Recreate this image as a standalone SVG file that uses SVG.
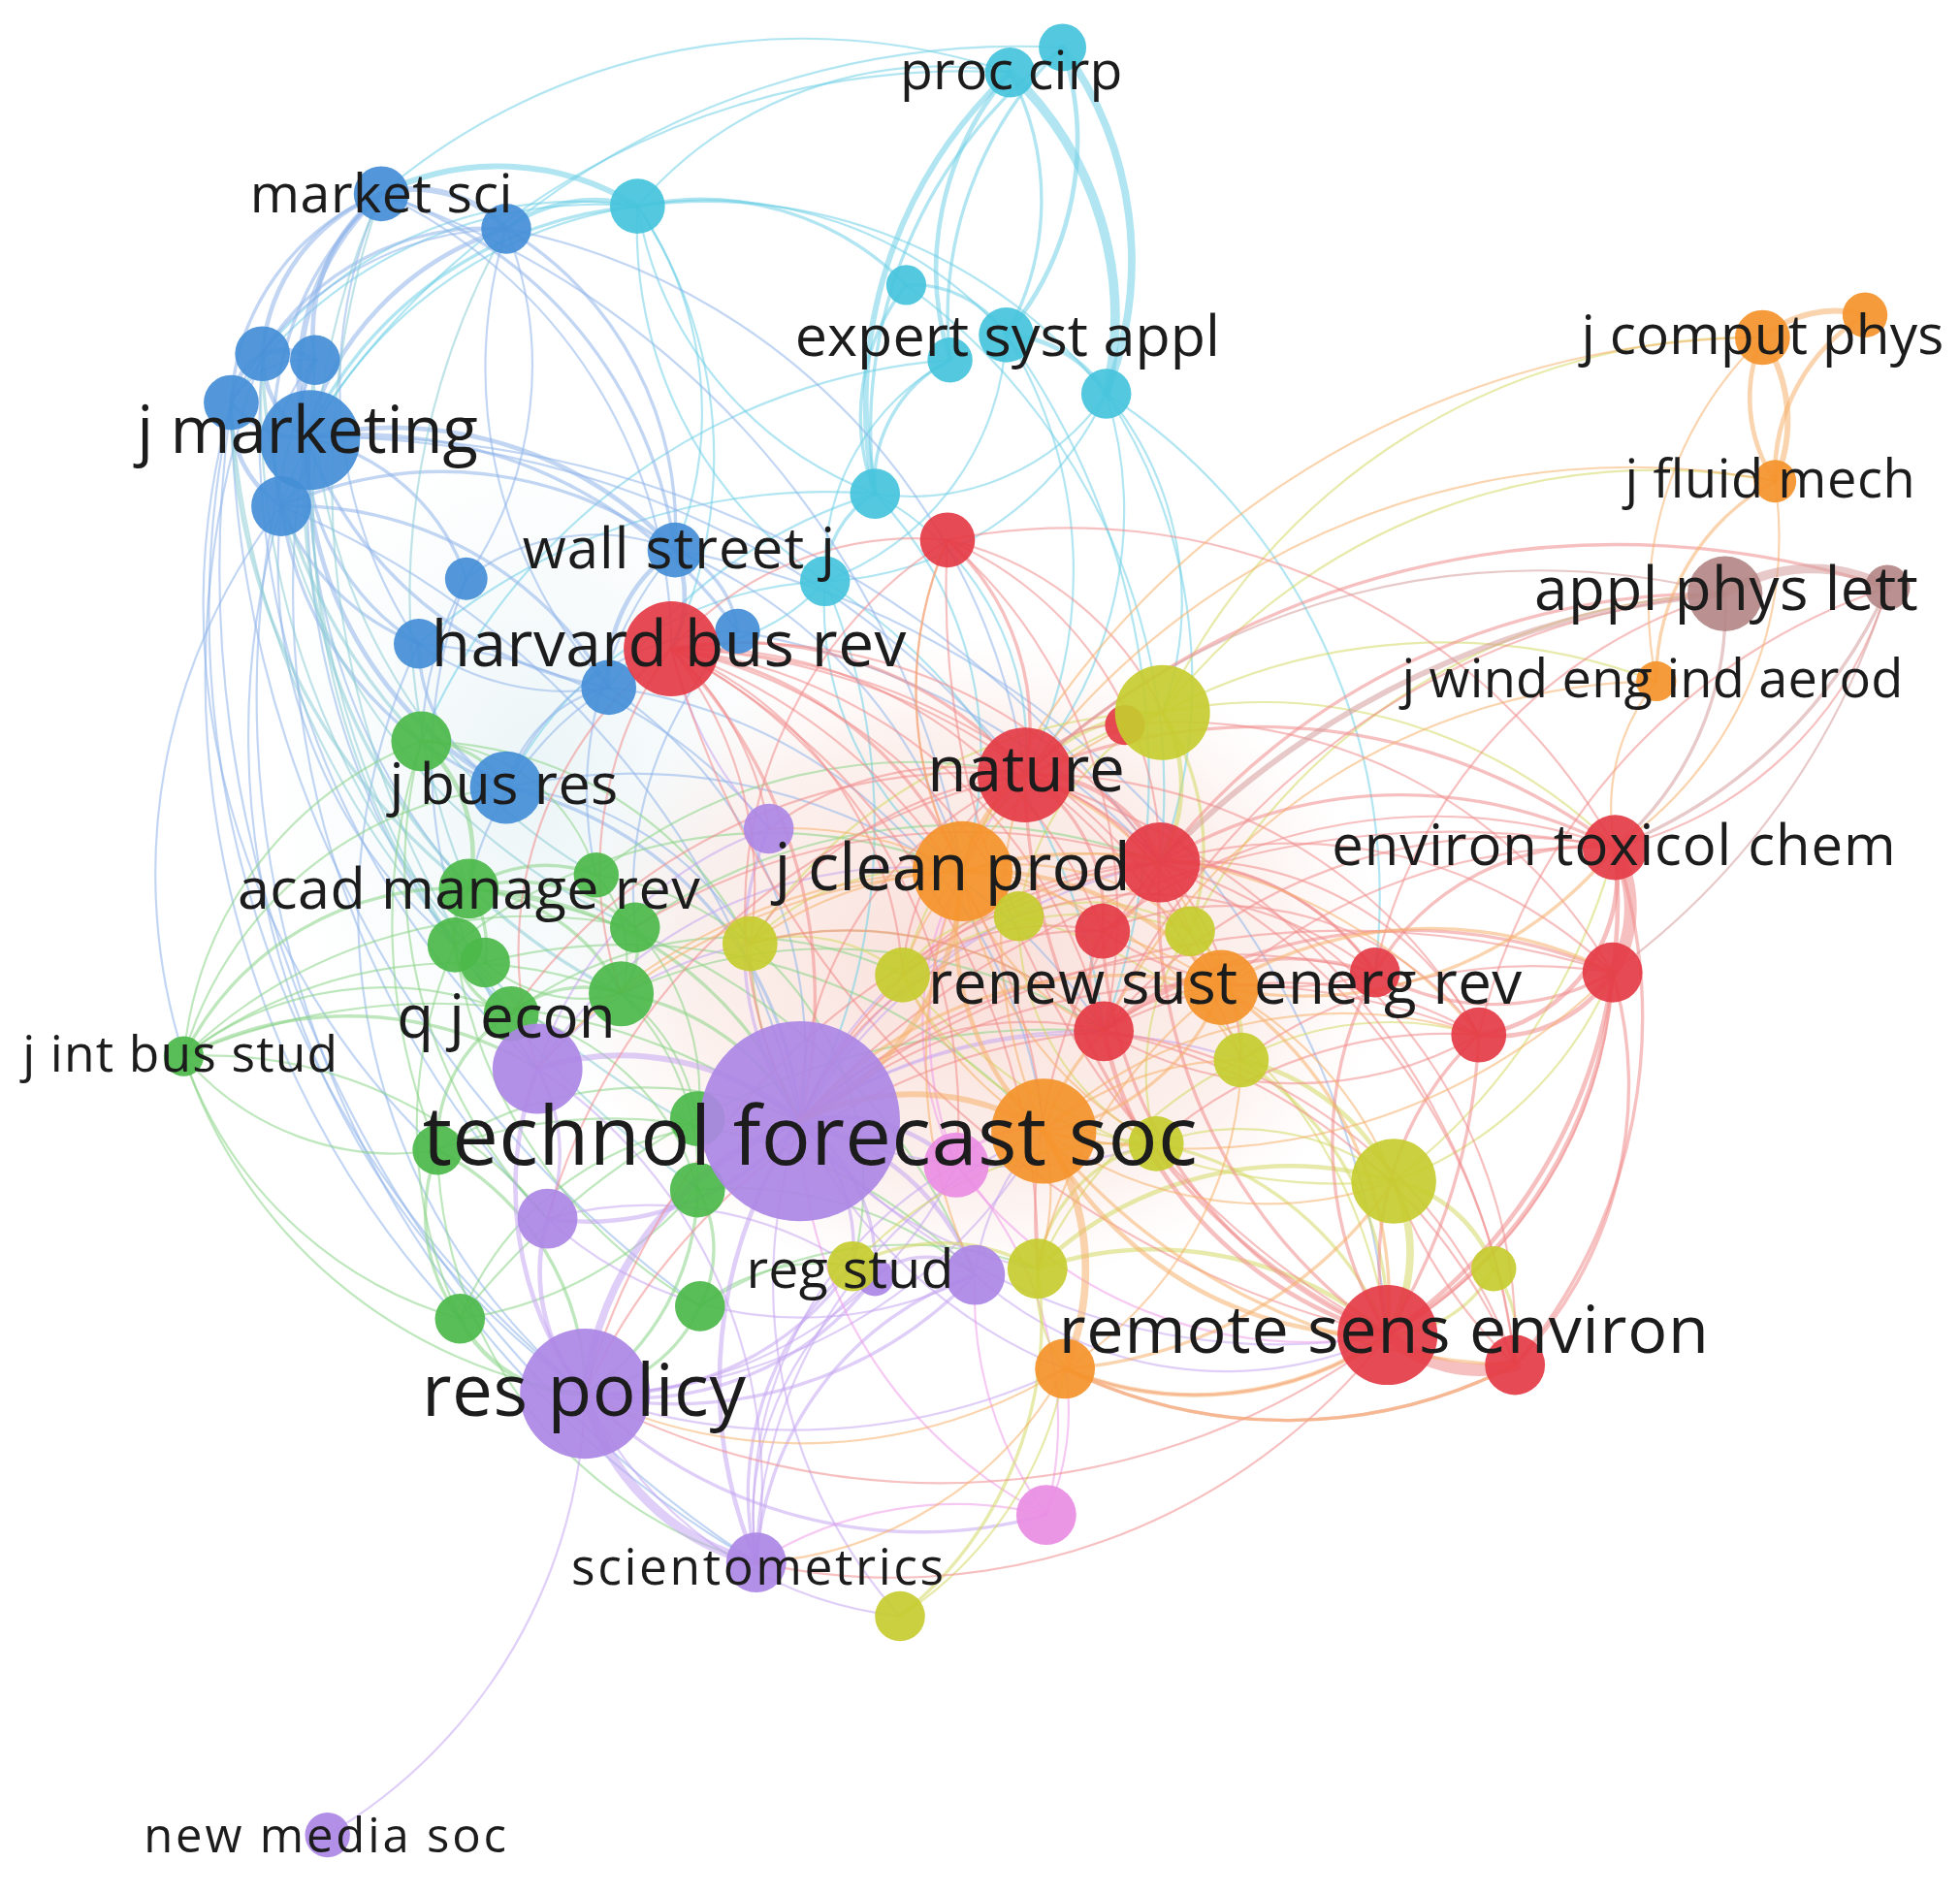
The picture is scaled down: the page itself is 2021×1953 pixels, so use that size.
<svg xmlns="http://www.w3.org/2000/svg" width="2021" height="1953" viewBox="0 0 2021 1953">
<style>
#edges path{fill:none;stroke-width:1.7;stroke-opacity:.55;stroke-linecap:round}
#edges .c{stroke:#6fd0e5}
#edges .b{stroke:#8fb5ea}
#edges .t{stroke:#8cccd6}
#edges .g{stroke:#8ad386}
#edges .p{stroke:#c4a6f0}
#edges .r{stroke:#f18c8c}
#edges .o{stroke:#f5b06c}
#edges .y{stroke:#d3d865}
#edges .k{stroke:#ee9ce9}
#edges .n{stroke:#d59d9d}
#edges .w2{stroke-width:2.6}
#edges .w3{stroke-width:3.6}
#edges .w4{stroke-width:4.6}
#edges .w5{stroke-width:6}
#edges .w6{stroke-width:7.5}
#edges .w8{stroke-width:10}
.nc{fill:#45c3dc}.nb{fill:#448ed7}.nr{fill:#e43b45}.no{fill:#f4922a}.ny{fill:#c5cc2f}
.np{fill:#ad87e5}.nk{fill:#e98de3}.ng{fill:#4cb84a}.nn{fill:#b48787}
circle{fill-opacity:.92}
text{font-family:"Open Sans","DejaVu Sans",sans-serif;fill:#1c1c1c}
</style>
<defs>
<radialGradient id="hz1"><stop offset="0" stop-color="#f5c2b8" stop-opacity=".55"/><stop offset=".7" stop-color="#f5cfc4" stop-opacity=".3"/><stop offset="1" stop-color="#f7d9d0" stop-opacity="0"/></radialGradient>
<radialGradient id="hz2"><stop offset="0" stop-color="#cbe4ea" stop-opacity=".4"/><stop offset="1" stop-color="#e0eef2" stop-opacity="0"/></radialGradient>
</defs>
<rect width="2021" height="1953" fill="#ffffff"/>
<g transform="scale(1.2889)">
<g id="background-haze">
<ellipse cx="430" cy="620" rx="220" ry="280" fill="url(#hz2)"/>
<ellipse cx="780" cy="770" rx="330" ry="260" fill="url(#hz1)"/>
</g>
<g id="edges">
<path class="c w6" d="M808 58A270 270 0 0 1 885 315"/>
<path class="c w5" d="M850 38A290 290 0 0 1 885 315"/>
<path class="c w4" d="M808 58A360 360 0 0 0 700 395"/>
<path class="c w3" d="M808 58A240 240 0 0 0 760 288"/>
<path class="c w3" d="M850 38A240 240 0 0 1 805 268"/>
<path class="c w2" d="M850 38A300 300 0 0 0 760 288"/>
<path class="c w2" d="M850 38A380 380 0 0 0 700 395"/>
<path class="c w2" d="M808 58A220 220 0 0 1 805 268"/>
<path class="c" d="M510 165A320 320 0 0 1 808 58"/>
<path class="c" d="M510 165A410 410 0 0 1 885 315"/>
<path class="c" d="M510 165A320 320 0 0 1 805 268"/>
<path class="c w2" d="M510 165A230 230 0 0 1 725 228"/>
<path class="c" d="M510 165A300 300 0 0 0 700 395"/>
<path class="c" d="M510 165A340 340 0 0 0 660 465"/>
<path class="c w2" d="M725 228A90 90 0 0 1 805 268"/>
<path class="c w2" d="M725 228A170 170 0 0 0 700 395"/>
<path class="c w3" d="M805 268A100 100 0 0 1 885 315"/>
<path class="c w2" d="M760 288A110 110 0 0 0 700 395"/>
<path class="c" d="M885 315A190 190 0 0 1 700 395"/>
<path class="c w2" d="M700 395A80 80 0 0 0 660 465"/>
<path class="c" d="M805 268A220 220 0 0 1 660 465"/>
<path class="c" d="M885 315A260 260 0 0 1 660 465"/>
<path class="c" d="M760 288A190 190 0 0 0 660 465"/>
<path class="c w4" d="M510 165A210 210 0 0 0 305 155"/>
<path class="c w3" d="M510 165A120 120 0 0 0 405 183"/>
<path class="c w2" d="M510 165A320 320 0 0 0 245 350"/>
<path class="c" d="M510 165A320 320 0 0 0 210 283"/>
<path class="c" d="M510 165A350 350 0 0 0 185 322"/>
<path class="c" d="M510 165A350 350 0 0 0 225 405"/>
<path class="c" d="M510 165A290 290 0 0 1 540 440"/>
<path class="c" d="M510 165A360 360 0 0 1 537 519"/>
<path class="c" d="M885 315A260 260 0 0 1 930 570"/>
<path class="c" d="M885 315A320 320 0 0 1 820 620"/>
<path class="c" d="M805 268A360 360 0 0 1 820 620"/>
<path class="c" d="M700 395A230 230 0 0 1 820 620"/>
<path class="c" d="M660 465A160 160 0 0 1 537 519"/>
<path class="c" d="M660 465A260 260 0 0 0 770 697"/>
<path class="c" d="M808 58A520 520 0 0 0 305 155"/>
<path class="c" d="M808 58A620 620 0 0 0 245 350"/>
<path class="c" d="M850 38A650 650 0 0 0 405 183"/>
<path class="c" d="M885 315A420 420 0 0 1 928 690"/>
<path class="c" d="M885 315A480 480 0 0 1 1100 778"/>
<path class="c" d="M660 465A500 500 0 0 1 883 825"/>
<path class="c" d="M725 228A500 500 0 0 1 928 690"/>
<path class="c" d="M760 288A500 500 0 0 0 337 593"/>
<path class="c" d="M700 395A500 500 0 0 0 335 515"/>
<path class="c" d="M805 268A600 600 0 0 1 883 825"/>
<path class="c" d="M660 465A500 500 0 0 1 640 897"/>
<path class="c" d="M700 395A400 400 0 0 0 487 550"/>
<path class="c" d="M700 395A300 300 0 0 1 770 697"/>
<path class="c" d="M660 465A300 300 0 0 0 405 630"/>
<path class="b w4" d="M245 350A200 200 0 0 1 305 155"/>
<path class="b w3" d="M245 350A240 240 0 0 1 405 183"/>
<path class="b w3" d="M245 350A80 80 0 0 1 210 283"/>
<path class="b w3" d="M245 350A70 70 0 0 1 252 288"/>
<path class="b w3" d="M245 350A70 70 0 0 1 185 322"/>
<path class="b w3" d="M245 350A60 60 0 0 1 225 405"/>
<path class="b w2" d="M245 350A170 170 0 0 1 373 463"/>
<path class="b w3" d="M245 350A310 310 0 0 1 540 440"/>
<path class="b w2" d="M245 350A370 370 0 0 1 590 505"/>
<path class="b w2" d="M245 350A190 190 0 0 0 335 515"/>
<path class="b w2" d="M245 350A310 310 0 0 0 487 550"/>
<path class="b w3" d="M245 350A310 310 0 0 0 405 630"/>
<path class="b w4" d="M305 155A100 100 0 0 1 405 183"/>
<path class="b w3" d="M305 155A150 150 0 0 0 210 283"/>
<path class="b w3" d="M305 155A140 140 0 0 0 252 288"/>
<path class="b w2" d="M305 155A190 190 0 0 0 185 322"/>
<path class="b w2" d="M305 155A260 260 0 0 0 225 405"/>
<path class="b w2" d="M305 155A350 350 0 0 1 540 440"/>
<path class="b" d="M305 155A370 370 0 0 0 335 515"/>
<path class="b" d="M305 155A400 400 0 0 1 537 519"/>
<path class="b w2" d="M405 183A210 210 0 0 0 210 283"/>
<path class="b" d="M405 183A250 250 0 0 0 185 322"/>
<path class="b w2" d="M405 183A280 280 0 0 1 540 440"/>
<path class="b" d="M405 183A380 380 0 0 0 487 550"/>
<path class="b" d="M405 183A300 300 0 0 1 373 463"/>
<path class="b w4" d="M210 283A50 50 0 0 1 252 288"/>
<path class="b w3" d="M210 283A50 50 0 0 0 185 322"/>
<path class="b" d="M252 288A70 70 0 0 0 185 322"/>
<path class="b w3" d="M185 322A90 90 0 0 0 225 405"/>
<path class="b" d="M252 288A120 120 0 0 0 225 405"/>
<path class="b w2" d="M225 405A190 190 0 0 0 335 515"/>
<path class="b w2" d="M225 405A280 280 0 0 0 405 630"/>
<path class="b w2" d="M225 405A290 290 0 0 1 487 550"/>
<path class="b w2" d="M225 405A310 310 0 0 1 540 440"/>
<path class="b w2" d="M540 440A80 80 0 0 1 590 505"/>
<path class="b w3" d="M540 440A120 120 0 0 0 487 550"/>
<path class="b w3" d="M540 440A90 90 0 0 1 537 519"/>
<path class="b" d="M373 463A170 170 0 0 1 540 440"/>
<path class="b" d="M335 515A200 200 0 0 0 487 550"/>
<path class="b w2" d="M335 515A130 130 0 0 0 405 630"/>
<path class="b" d="M487 550A110 110 0 0 0 405 630"/>
<path class="b" d="M590 505A200 200 0 0 0 405 630"/>
<path class="b" d="M185 322A800 800 0 0 0 468 1115"/>
<path class="b" d="M210 283A750 750 0 0 0 368 1055"/>
<path class="b" d="M225 405A650 650 0 0 0 468 1115"/>
<path class="b" d="M245 350A720 720 0 0 0 438 975"/>
<path class="b" d="M185 322A600 600 0 0 0 350 920"/>
<path class="b" d="M225 405A480 480 0 0 0 147 845"/>
<path class="b" d="M210 283A700 700 0 0 0 430 855"/>
<path class="b" d="M252 288A800 800 0 0 0 605 1250"/>
<path class="b" d="M185 322A900 900 0 0 0 560 1045"/>
<path class="b" d="M245 350A720 720 0 0 1 820 620"/>
<path class="b" d="M305 155A700 700 0 0 1 770 697"/>
<path class="b" d="M245 350A800 800 0 0 1 928 690"/>
<path class="b" d="M225 405A700 700 0 0 1 640 897"/>
<path class="b" d="M405 183A520 520 0 0 1 820 620"/>
<path class="b" d="M540 440A400 400 0 0 1 770 697"/>
<path class="b" d="M487 550A350 350 0 0 1 640 897"/>
<path class="b w2" d="M405 630A300 300 0 0 1 640 897"/>
<path class="b" d="M373 463A400 400 0 0 0 430 855"/>
<path class="b" d="M335 515A500 500 0 0 0 468 1115"/>
<path class="b" d="M540 440A700 700 0 0 1 1110 1068"/>
<path class="b" d="M590 505A600 600 0 0 1 928 690"/>
<path class="b" d="M405 630A450 450 0 0 1 883 825"/>
<path class="b" d="M487 550A400 400 0 0 1 835 905"/>
<path class="b" d="M335 515A400 400 0 0 1 615 663"/>
<path class="b" d="M405 630A250 250 0 0 1 600 755"/>
<path class="b" d="M248 352A500 500 0 0 0 375 711"/>
<path class="b" d="M225 405A400 400 0 0 0 364 756"/>
<path class="b" d="M248 352A600 600 0 0 0 409 811"/>
<path class="b" d="M373 463A300 300 0 0 0 337 593"/>
<path class="b" d="M540 440A300 300 0 0 0 477 700"/>
<path class="b" d="M487 550A250 250 0 0 0 375 711"/>
<path class="b" d="M590 505A300 300 0 0 0 508 742"/>
<path class="b" d="M185 322A950 950 0 0 0 605 1250"/>
<path class="t w2" d="M210 283A450 450 0 0 0 337 593"/>
<path class="t w2" d="M185 322A500 500 0 0 0 375 711"/>
<path class="t" d="M252 288A450 450 0 0 0 477 700"/>
<path class="t w2" d="M245 350A450 450 0 0 0 497 795"/>
<path class="t" d="M305 155A600 600 0 0 0 364 756"/>
<path class="t" d="M210 283A650 650 0 0 0 388 770"/>
<path class="t" d="M225 405A500 500 0 0 0 508 742"/>
<path class="t" d="M305 155A700 700 0 0 0 409 811"/>
<path class="t" d="M405 183A600 600 0 0 0 375 711"/>
<path class="t" d="M185 322A700 700 0 0 0 558 902"/>
<path class="t" d="M252 288A700 700 0 0 0 558 950"/>
<path class="g w2" d="M147 845A240 240 0 0 1 375 711"/>
<path class="g" d="M147 845A260 260 0 0 1 409 811"/>
<path class="g w2" d="M147 845A290 290 0 0 1 430 855"/>
<path class="g" d="M147 845A220 220 0 0 0 350 920"/>
<path class="g" d="M147 845A360 360 0 0 1 497 795"/>
<path class="g" d="M147 845A300 300 0 0 1 337 593"/>
<path class="g" d="M147 845A330 330 0 0 0 368 1055"/>
<path class="g" d="M147 845A300 300 0 0 1 405 630"/>
<path class="g" d="M147 845A400 400 0 0 1 508 742"/>
<path class="g" d="M147 845A400 400 0 0 0 468 1115"/>
<path class="g" d="M147 845A500 500 0 0 1 640 897"/>
<path class="g w3" d="M375 711A60 60 0 0 0 364 756"/>
<path class="g w2" d="M375 711A80 80 0 0 1 388 770"/>
<path class="g w2" d="M375 711A110 110 0 0 1 477 700"/>
<path class="g w2" d="M375 711A140 140 0 0 1 508 742"/>
<path class="g w2" d="M375 711A150 150 0 0 1 497 795"/>
<path class="g w3" d="M337 593A120 120 0 0 1 375 711"/>
<path class="g" d="M337 593A150 150 0 0 1 477 700"/>
<path class="g w2" d="M337 593A80 80 0 0 1 405 630"/>
<path class="g w2" d="M364 756A60 60 0 0 0 409 811"/>
<path class="g" d="M388 770A120 120 0 0 0 497 795"/>
<path class="g w2" d="M409 811A90 90 0 0 1 497 795"/>
<path class="g w2" d="M508 742A60 60 0 0 1 497 795"/>
<path class="g" d="M477 700A100 100 0 0 1 497 795"/>
<path class="g w2" d="M409 811A120 120 0 0 0 350 920"/>
<path class="g w2" d="M350 920A140 140 0 0 0 368 1055"/>
<path class="g w3" d="M368 1055A110 110 0 0 0 468 1115"/>
<path class="g w2" d="M560 1045A120 120 0 0 1 468 1115"/>
<path class="g w2" d="M558 950A200 200 0 0 1 468 1115"/>
<path class="g w2" d="M558 950A100 100 0 0 1 560 1045"/>
<path class="g w2" d="M350 920A220 220 0 0 1 468 1115"/>
<path class="g" d="M364 756A360 360 0 0 0 368 1055"/>
<path class="g" d="M337 593A470 470 0 0 0 350 920"/>
<path class="g" d="M497 795A200 200 0 0 1 558 950"/>
<path class="g" d="M508 742A200 200 0 0 1 558 902"/>
<path class="g" d="M409 811A200 200 0 0 1 558 950"/>
<path class="g w2" d="M375 711A300 300 0 0 1 640 897"/>
<path class="g w2" d="M497 795A200 200 0 0 1 640 897"/>
<path class="g" d="M350 920A300 300 0 0 1 640 897"/>
<path class="g" d="M368 1055A250 250 0 0 1 558 902"/>
<path class="g" d="M368 1055A300 300 0 0 0 558 950"/>
<path class="g" d="M477 700A250 250 0 0 1 682 1013"/>
<path class="g" d="M560 1045A150 150 0 0 1 682 1013"/>
<path class="g" d="M375 711A500 500 0 0 1 780 1020"/>
<path class="g" d="M350 920A400 400 0 0 1 780 1020"/>
<path class="g" d="M508 742A450 450 0 0 1 928 690"/>
<path class="g" d="M477 700A400 400 0 0 1 820 620"/>
<path class="g" d="M368 1055A600 600 0 0 1 883 825"/>
<path class="g" d="M364 756A400 400 0 0 1 770 697"/>
<path class="g" d="M409 811A300 300 0 0 1 722 780"/>
<path class="g" d="M337 593A300 300 0 0 1 600 755"/>
<path class="g" d="M388 770A450 450 0 0 1 835 905"/>
<path class="g" d="M497 795A400 400 0 0 1 883 825"/>
<path class="g" d="M364 756A400 400 0 0 0 560 1045"/>
<path class="g" d="M350 920A350 350 0 0 0 605 1250"/>
<path class="g" d="M147 845A350 350 0 0 1 438 975"/>
<path class="g" d="M337 593A400 400 0 0 0 438 975"/>
<path class="g" d="M558 902A150 150 0 0 0 497 795"/>
<path class="g" d="M558 952A300 300 0 0 1 780 1020"/>
<path class="g" d="M560 1045A300 300 0 0 1 830 1015"/>
<path class="p w6" d="M468 1115A190 190 0 0 0 605 1250"/>
<path class="p w5" d="M468 1115A260 260 0 0 1 640 897"/>
<path class="p" d="M468 1115A420 420 0 0 1 262 1468"/>
<path class="p w3" d="M468 1115A270 270 0 0 1 430 855"/>
<path class="p w3" d="M468 1115A150 150 0 0 1 438 975"/>
<path class="p w2" d="M468 1115A330 330 0 0 0 780 1020"/>
<path class="p w2" d="M468 1115A240 240 0 0 0 682 1013"/>
<path class="p w2" d="M468 1115A240 240 0 0 0 700 1022"/>
<path class="p" d="M468 1115A320 320 0 0 0 765 932"/>
<path class="p w2" d="M468 1115A380 380 0 0 0 837 1212"/>
<path class="p" d="M468 1115A320 320 0 0 0 720 1293"/>
<path class="p" d="M468 1115A420 420 0 0 0 835 905"/>
<path class="p" d="M468 1115A500 500 0 0 0 852 1095"/>
<path class="p w3" d="M605 1250A370 370 0 0 1 640 897"/>
<path class="p w2" d="M605 1250A260 260 0 0 1 780 1020"/>
<path class="p w2" d="M605 1250A240 240 0 0 1 682 1013"/>
<path class="p" d="M605 1250A240 240 0 0 1 700 1022"/>
<path class="p" d="M605 1250A320 320 0 0 1 765 932"/>
<path class="p" d="M605 1250A380 380 0 0 1 835 905"/>
<path class="p" d="M605 1250A400 400 0 0 0 430 855"/>
<path class="p w4" d="M640 897A220 220 0 0 0 430 855"/>
<path class="p w3" d="M640 897A220 220 0 0 1 438 975"/>
<path class="p w3" d="M640 897A200 200 0 0 1 780 1020"/>
<path class="p w2" d="M640 897A240 240 0 0 1 615 663"/>
<path class="p w3" d="M640 897A140 140 0 0 1 765 932"/>
<path class="p w2" d="M640 897A140 140 0 0 1 700 1022"/>
<path class="p w2" d="M640 897A140 140 0 0 1 682 1013"/>
<path class="p w2" d="M430 855A140 140 0 0 1 438 975"/>
<path class="p" d="M615 663A300 300 0 0 1 537 519"/>
<path class="p w2" d="M780 1020A60 60 0 0 0 700 1022"/>
<path class="p" d="M438 975A300 300 0 0 0 780 1020"/>
<path class="p" d="M430 855A350 350 0 0 1 770 697"/>
<path class="p" d="M640 897A450 450 0 0 1 928 690"/>
<path class="p" d="M640 897A500 500 0 0 0 1110 1068"/>
<path class="p" d="M640 897A300 300 0 0 1 600 755"/>
<path class="p" d="M640 897A300 300 0 0 1 722 780"/>
<path class="p" d="M640 897A400 400 0 0 1 883 825"/>
<path class="p" d="M640 897A350 350 0 0 1 815 733"/>
<path class="p" d="M640 897A400 400 0 0 1 993 848"/>
<path class="p" d="M640 897A400 400 0 0 0 925 915"/>
<path class="p" d="M640 897A300 300 0 0 0 830 1015"/>
<path class="p" d="M640 897A400 400 0 0 0 852 1095"/>
<path class="p" d="M640 897A400 400 0 0 0 720 1293"/>
<path class="p" d="M430 855A300 300 0 0 1 600 755"/>
<path class="p" d="M430 855A300 300 0 0 1 615 663"/>
<path class="p" d="M438 975A300 300 0 0 1 682 1013"/>
<path class="p" d="M780 1020A300 300 0 0 0 1110 1068"/>
<path class="p" d="M780 1020A200 200 0 0 1 835 905"/>
<path class="k w2" d="M765 932A70 70 0 0 1 835 905"/>
<path class="k" d="M765 932A300 300 0 0 1 837 1212"/>
<path class="k" d="M837 1212A300 300 0 0 0 605 1250"/>
<path class="k" d="M837 1212A360 360 0 0 1 640 897"/>
<path class="k" d="M837 1212A200 200 0 0 0 852 1095"/>
<path class="k" d="M837 1212A300 300 0 0 1 780 1020"/>
<path class="k" d="M765 932A350 350 0 0 0 1110 1068"/>
<path class="k" d="M765 932A300 300 0 0 1 820 620"/>
<path class="k" d="M765 932A250 250 0 0 1 770 697"/>
<path class="y w3" d="M930 570A160 160 0 0 0 820 620"/>
<path class="y w3" d="M930 570A120 120 0 0 1 928 690"/>
<path class="y w2" d="M930 570A200 200 0 0 1 952 745"/>
<path class="y" d="M930 570A220 220 0 0 0 815 733"/>
<path class="y w2" d="M952 745A120 120 0 0 1 993 848"/>
<path class="y w3" d="M993 848A180 180 0 0 1 1115 945"/>
<path class="y w3" d="M1115 945A110 110 0 0 1 1195 1015"/>
<path class="y w5" d="M1115 945A130 130 0 0 1 1110 1068"/>
<path class="y w2" d="M1195 1015A100 100 0 0 1 1110 1068"/>
<path class="y w2" d="M1195 1015A100 100 0 0 1 1212 1092"/>
<path class="y w3" d="M830 1015A290 290 0 0 1 1115 945"/>
<path class="y w3" d="M830 1015A290 290 0 0 1 1110 1068"/>
<path class="y w2" d="M830 1015A120 120 0 0 1 925 915"/>
<path class="y" d="M830 1015A110 110 0 0 0 852 1095"/>
<path class="y" d="M925 915A200 200 0 0 1 1115 945"/>
<path class="y w2" d="M682 1013A150 150 0 0 1 830 1015"/>
<path class="y w2" d="M720 1293A300 300 0 0 0 830 1015"/>
<path class="y" d="M720 1293A300 300 0 0 0 852 1095"/>
<path class="y" d="M600 755A130 130 0 0 1 722 780"/>
<path class="y" d="M722 780A100 100 0 0 1 815 733"/>
<path class="y" d="M600 755A200 200 0 0 1 770 697"/>
<path class="y" d="M993 848A250 250 0 0 1 1183 828"/>
<path class="y" d="M930 570A520 520 0 0 1 1410 270"/>
<path class="y" d="M930 570A480 480 0 0 1 1325 545"/>
<path class="y" d="M930 570A500 500 0 0 1 1420 385"/>
<path class="y" d="M952 745A500 500 0 0 1 1380 475"/>
<path class="y" d="M815 733A400 400 0 0 1 1110 1068"/>
<path class="y" d="M722 780A450 450 0 0 0 1115 945"/>
<path class="y" d="M993 848A350 350 0 0 0 830 1015"/>
<path class="y w2" d="M993 848A250 250 0 0 1 1110 1068"/>
<path class="y" d="M1115 945A300 300 0 0 0 1290 778"/>
<path class="y" d="M930 570A400 400 0 0 1 1292 678"/>
<path class="y" d="M600 755A300 300 0 0 0 640 897"/>
<path class="y" d="M815 733A150 150 0 0 1 952 745"/>
<path class="y" d="M722 780A250 250 0 0 1 952 745"/>
<path class="y" d="M600 755A300 300 0 0 1 883 825"/>
<path class="y" d="M722 780A250 250 0 0 0 925 915"/>
<path class="y" d="M815 733A200 200 0 0 0 925 915"/>
<path class="y" d="M952 745A200 200 0 0 0 925 915"/>
<path class="y" d="M930 570A300 300 0 0 0 722 780"/>
<path class="y" d="M930 570A400 400 0 0 0 600 755"/>
<path class="y w2" d="M925 915A250 250 0 0 1 1110 1068"/>
<path class="y" d="M682 1013A300 300 0 0 1 925 915"/>
<path class="y" d="M1115 945A500 500 0 0 0 1292 678"/>
<path class="r w8" d="M1110 1068A110 110 0 0 0 1212 1092"/>
<path class="r w8" d="M1292 678A100 100 0 0 1 1290 778"/>
<path class="r w3" d="M1290 778A360 360 0 0 1 1110 1068"/>
<path class="r w3" d="M1292 678A420 420 0 0 1 1110 1068"/>
<path class="r w2" d="M1292 678A430 430 0 0 1 1212 1092"/>
<path class="r w2" d="M1290 778A320 320 0 0 1 1212 1092"/>
<path class="r w2" d="M1183 828A250 250 0 0 0 1110 1068"/>
<path class="r w2" d="M1100 778A290 290 0 0 0 1110 1068"/>
<path class="r w3" d="M883 825A320 320 0 0 0 1110 1068"/>
<path class="r w2" d="M928 690A420 420 0 0 0 1110 1068"/>
<path class="r w2" d="M820 620A500 500 0 0 0 1110 1068"/>
<path class="r w2" d="M882 745A360 360 0 0 0 1110 1068"/>
<path class="r" d="M928 690A400 400 0 0 1 1212 1092"/>
<path class="r" d="M883 825A400 400 0 0 1 1212 1092"/>
<path class="r" d="M820 620A560 560 0 0 1 1212 1092"/>
<path class="r" d="M537 519A780 780 0 0 0 1110 1068"/>
<path class="r" d="M758 432A680 680 0 0 0 1110 1068"/>
<path class="r w3" d="M1292 678A130 130 0 0 1 1183 828"/>
<path class="r w3" d="M1290 778A110 110 0 0 1 1183 828"/>
<path class="r w2" d="M1292 678A200 200 0 0 0 1100 778"/>
<path class="r w2" d="M1290 778A190 190 0 0 1 1100 778"/>
<path class="r w2" d="M1292 678A370 370 0 0 0 928 690"/>
<path class="r w2" d="M1292 678A470 470 0 0 0 820 620"/>
<path class="r w2" d="M1290 778A410 410 0 0 0 883 825"/>
<path class="r" d="M1290 778A370 370 0 0 0 928 690"/>
<path class="r" d="M1292 678A420 420 0 0 0 883 825"/>
<path class="r" d="M1292 678A430 430 0 0 0 882 745"/>
<path class="r" d="M1183 828A300 300 0 0 0 883 825"/>
<path class="r" d="M1183 828A260 260 0 0 0 928 690"/>
<path class="r w2" d="M1100 778A200 200 0 0 0 928 690"/>
<path class="r w2" d="M1100 778A220 220 0 0 0 883 825"/>
<path class="r w3" d="M928 690A110 110 0 0 0 820 620"/>
<path class="r w2" d="M820 620A130 130 0 0 1 882 745"/>
<path class="r w2" d="M882 745A80 80 0 0 0 883 825"/>
<path class="r w2" d="M928 690A80 80 0 0 1 882 745"/>
<path class="r" d="M820 620A90 90 0 0 1 900 580"/>
<path class="r w2" d="M758 432A200 200 0 0 1 820 620"/>
<path class="r" d="M758 432A280 280 0 0 1 928 690"/>
<path class="r w2" d="M537 519A300 300 0 0 1 820 620"/>
<path class="r w2" d="M537 519A300 300 0 0 1 770 697"/>
<path class="r" d="M537 519A400 400 0 0 1 928 690"/>
<path class="r" d="M537 519A400 400 0 0 1 883 825"/>
<path class="r w2" d="M537 519A400 400 0 0 1 640 897"/>
<path class="r" d="M537 519A260 260 0 0 1 758 432"/>
<path class="r w2" d="M1212 1092A400 400 0 0 1 852 1095"/>
<path class="r" d="M1110 1068A270 270 0 0 1 852 1095"/>
<path class="r w2" d="M820 620A700 700 0 0 1 1510 470"/>
<path class="r w2" d="M928 690A560 560 0 0 1 1380 475"/>
<path class="r" d="M883 825A600 600 0 0 1 1380 475"/>
<path class="r" d="M1292 678A300 300 0 0 0 1510 470"/>
<path class="r" d="M1100 778A400 400 0 0 1 1380 475"/>
<path class="r" d="M1183 828A500 500 0 0 1 1510 470"/>
<path class="r" d="M537 519A350 350 0 0 1 882 745"/>
<path class="r" d="M537 519A300 300 0 0 1 600 755"/>
<path class="r" d="M537 519A300 300 0 0 1 722 780"/>
<path class="r" d="M537 519A250 250 0 0 1 615 663"/>
<path class="r" d="M537 519A400 400 0 0 1 815 733"/>
<path class="r" d="M537 519A500 500 0 0 1 977 790"/>
<path class="r" d="M537 519A500 500 0 0 1 993 848"/>
<path class="r" d="M537 519A450 450 0 0 1 835 905"/>
<path class="r" d="M537 519A420 420 0 0 1 765 932"/>
<path class="r" d="M537 519A550 550 0 0 1 830 1015"/>
<path class="r" d="M537 519A300 300 0 0 0 497 795"/>
<path class="r" d="M537 519A300 300 0 0 0 430 855"/>
<path class="r" d="M820 620A300 300 0 0 0 640 897"/>
<path class="r" d="M928 690A350 350 0 0 0 640 897"/>
<path class="r" d="M883 825A250 250 0 0 0 640 897"/>
<path class="r" d="M882 745A250 250 0 0 0 640 897"/>
<path class="r" d="M1100 778A500 500 0 0 0 640 897"/>
<path class="r" d="M1292 678A700 700 0 0 0 640 897"/>
<path class="r" d="M1290 778A700 700 0 0 0 640 897"/>
<path class="r" d="M1183 828A560 560 0 0 0 640 897"/>
<path class="r" d="M820 620A300 300 0 0 0 600 755"/>
<path class="r" d="M820 620A250 250 0 0 0 615 663"/>
<path class="r" d="M928 690A300 300 0 0 0 722 780"/>
<path class="r" d="M883 825A300 300 0 0 0 600 755"/>
<path class="r" d="M1100 778A300 300 0 0 0 815 733"/>
<path class="r" d="M1183 828A350 350 0 0 0 925 915"/>
<path class="r" d="M1290 778A400 400 0 0 0 993 848"/>
<path class="r" d="M820 620A400 400 0 0 1 1183 828"/>
<path class="r" d="M758 432A500 500 0 0 1 1292 678"/>
<path class="r" d="M758 432A400 400 0 0 1 883 825"/>
<path class="r" d="M900 580A400 400 0 0 1 1290 778"/>
<path class="r" d="M928 690A450 450 0 0 0 830 1015"/>
<path class="r" d="M820 620A500 500 0 0 0 438 975"/>
<path class="r" d="M883 825A500 500 0 0 0 468 1115"/>
<path class="r" d="M928 690A600 600 0 0 0 468 1115"/>
<path class="r" d="M1110 1068A600 600 0 0 1 468 1115"/>
<path class="r" d="M1110 1068A500 500 0 0 1 605 1250"/>
<path class="r" d="M820 620A450 450 0 0 0 409 811"/>
<path class="r" d="M928 690A500 500 0 0 0 508 742"/>
<path class="r" d="M820 620A200 200 0 0 1 952 745"/>
<path class="r" d="M820 620A250 250 0 0 1 993 848"/>
<path class="r" d="M820 620A200 200 0 0 0 722 780"/>
<path class="r" d="M882 745A200 200 0 0 0 722 780"/>
<path class="r" d="M883 825A150 150 0 0 1 977 790"/>
<path class="r" d="M928 690A200 200 0 0 1 1100 778"/>
<path class="r" d="M882 745A250 250 0 0 0 1100 778"/>
<path class="r" d="M883 825A300 300 0 0 0 1183 828"/>
<path class="r" d="M882 745A250 250 0 0 1 1183 828"/>
<path class="r" d="M758 432A300 300 0 0 0 770 697"/>
<path class="r" d="M758 432A250 250 0 0 1 930 570"/>
<path class="r" d="M758 432A350 350 0 0 0 640 897"/>
<path class="r" d="M1292 678A450 450 0 0 0 977 790"/>
<path class="r" d="M1212 1092A450 450 0 0 0 883 825"/>
<path class="r" d="M1212 1092A500 500 0 0 0 928 690"/>
<path class="r w2" d="M1110 1068A500 500 0 0 0 1183 828"/>
<path class="r" d="M1212 1092A400 400 0 0 1 1115 945"/>
<path class="r" d="M1110 1068A350 350 0 0 0 1290 778"/>
<path class="o w4" d="M1410 270A90 90 0 0 1 1492 252"/>
<path class="o w4" d="M1410 270A120 120 0 0 1 1420 385"/>
<path class="o w3" d="M1410 270A120 120 0 0 0 1420 385"/>
<path class="o w3" d="M1492 252A150 150 0 0 0 1420 385"/>
<path class="o w2" d="M1420 385A180 180 0 0 0 1325 545"/>
<path class="o" d="M1410 270A300 300 0 0 0 1325 545"/>
<path class="o" d="M1420 385A300 300 0 0 1 1292 678"/>
<path class="o" d="M1325 545A160 160 0 0 0 1292 678"/>
<path class="o" d="M1420 385A600 600 0 0 0 820 620"/>
<path class="o" d="M1325 545A500 500 0 0 0 883 825"/>
<path class="o w3" d="M770 697A250 250 0 0 1 977 790"/>
<path class="o w3" d="M770 697A220 220 0 0 0 835 905"/>
<path class="o w2" d="M977 790A180 180 0 0 1 835 905"/>
<path class="o w5" d="M835 905A200 200 0 0 1 852 1095"/>
<path class="o w3" d="M852 1095A270 270 0 0 0 1110 1068"/>
<path class="o w2" d="M977 790A300 300 0 0 1 1110 1068"/>
<path class="o w3" d="M835 905A300 300 0 0 0 1110 1068"/>
<path class="o w3" d="M770 697A130 130 0 0 1 820 620"/>
<path class="o w4" d="M770 697A230 230 0 0 1 640 897"/>
<path class="o w4" d="M835 905A200 200 0 0 0 640 897"/>
<path class="o w2" d="M977 790A340 340 0 0 0 640 897"/>
<path class="o w2" d="M977 790A320 320 0 0 0 1292 678"/>
<path class="o w2" d="M977 790A320 320 0 0 1 1290 778"/>
<path class="o" d="M835 905A480 480 0 0 0 1290 778"/>
<path class="o w2" d="M852 1095A400 400 0 0 0 1212 1092"/>
<path class="o" d="M770 697A700 700 0 0 1 1410 270"/>
<path class="o" d="M852 1095A300 300 0 0 1 605 1250"/>
<path class="o" d="M852 1095A400 400 0 0 1 468 1115"/>
<path class="o" d="M770 697A300 300 0 0 1 928 690"/>
<path class="o" d="M770 697A200 200 0 0 0 883 825"/>
<path class="o" d="M770 697A300 300 0 0 0 615 663"/>
<path class="o" d="M770 697A300 300 0 0 0 600 755"/>
<path class="o" d="M770 697A300 300 0 0 1 993 848"/>
<path class="o" d="M770 697A400 400 0 0 1 1183 828"/>
<path class="o" d="M770 697A450 450 0 0 0 430 855"/>
<path class="o" d="M770 697A500 500 0 0 0 497 795"/>
<path class="o" d="M770 697A400 400 0 0 0 780 1020"/>
<path class="o w2" d="M835 905A500 500 0 0 0 1212 1092"/>
<path class="o" d="M977 790A400 400 0 0 0 830 1015"/>
<path class="o" d="M977 790A300 300 0 0 1 1115 945"/>
<path class="o" d="M835 905A350 350 0 0 1 1183 828"/>
<path class="o" d="M770 697A150 150 0 0 1 882 745"/>
<path class="o" d="M770 697A200 200 0 0 0 722 780"/>
<path class="o" d="M770 697A200 200 0 0 1 952 745"/>
<path class="o" d="M770 697A300 300 0 0 1 930 570"/>
<path class="o" d="M770 697A300 300 0 0 1 758 432"/>
<path class="o" d="M770 697A300 300 0 0 0 925 915"/>
<path class="o w2" d="M835 905A200 200 0 0 1 883 825"/>
<path class="o" d="M835 905A250 250 0 0 1 993 848"/>
<path class="o" d="M835 905A250 250 0 0 0 925 915"/>
<path class="o" d="M835 905A300 300 0 0 0 1115 945"/>
<path class="o" d="M835 905A200 200 0 0 1 830 1015"/>
<path class="o" d="M835 905A300 300 0 0 1 722 780"/>
<path class="o" d="M835 905A400 400 0 0 1 820 620"/>
<path class="o" d="M977 790A300 300 0 0 0 882 745"/>
<path class="o" d="M977 790A250 250 0 0 0 820 620"/>
<path class="o" d="M852 1095A300 300 0 0 0 993 848"/>
<path class="o w2" d="M852 1095A350 350 0 0 0 1115 945"/>
<path class="n w6" d="M1380 475A130 130 0 0 1 1510 470"/>
<path class="n w4" d="M1380 475A700 700 0 0 0 928 690"/>
<path class="n w2" d="M1380 475A250 250 0 0 1 1292 678"/>
<path class="n w2" d="M1510 470A400 400 0 0 1 1292 678"/>
<path class="n" d="M1510 470A600 600 0 0 1 1290 778"/>
<path class="n" d="M1380 475A600 600 0 0 0 820 620"/>
</g>
<g id="node-blue">
<g id="n-market-sci-2"><circle class="nb" cx="405" cy="183" r="20"/></g>
<g id="n-market-sci"><circle class="nb" cx="305" cy="155" r="22"/></g>
<g id="n-b3"><circle class="nb" cx="210" cy="283" r="22"/></g>
<g id="n-b4"><circle class="nb" cx="252" cy="288" r="20"/></g>
<g id="n-b5"><circle class="nb" cx="185" cy="322" r="22"/></g>
<g id="n-b7"><circle class="nb" cx="225" cy="405" r="24"/></g>
<g id="n-j-marketing"><circle class="nb" cx="248" cy="352" r="40"/></g>
<g id="n-b8"><circle class="nb" cx="373" cy="463" r="17"/></g>
<g id="n-wall-street-j"><circle class="nb" cx="540" cy="440" r="22"/></g>
<g id="n-b10"><circle class="nb" cx="590" cy="505" r="18"/></g>
<g id="n-b11"><circle class="nb" cx="335" cy="515" r="20"/></g>
<g id="n-b12"><circle class="nb" cx="487" cy="550" r="22"/></g>
</g>
<g id="node-cyan">
<g id="n-c3"><circle class="nc" cx="510" cy="165" r="22"/></g>
<g id="n-proc-cirp-2"><circle class="nc" cx="850" cy="38" r="19"/></g>
<g id="n-proc-cirp"><circle class="nc" cx="808" cy="58" r="20"/></g>
<g id="n-c4"><circle class="nc" cx="725" cy="228" r="16"/></g>
<g id="n-expert-syst-appl-2"><circle class="nc" cx="760" cy="288" r="18"/></g>
<g id="n-expert-syst-appl"><circle class="nc" cx="805" cy="268" r="22"/></g>
<g id="n-c7"><circle class="nc" cx="885" cy="315" r="20"/></g>
<g id="n-c8"><circle class="nc" cx="700" cy="395" r="20"/></g>
<g id="n-c9"><circle class="nc" cx="660" cy="465" r="20"/></g>
</g>
<g id="node-red-upper">
<g id="n-r1"><circle class="nr" cx="758" cy="432" r="22"/></g>
<g id="n-harvard-bus-rev"><circle class="nr" cx="537" cy="519" r="38"/></g>
</g>
<g id="n-j-bus-res"><circle class="nb" cx="405" cy="630" r="29"/></g>
<g id="node-green">
<g id="n-g1"><circle class="ng" cx="337" cy="593" r="24"/></g>
<g id="n-g2"><circle class="ng" cx="477" cy="700" r="18"/></g>
<g id="n-acad-manage-rev"><circle class="ng" cx="375" cy="711" r="24"/></g>
<g id="n-g4"><circle class="ng" cx="364" cy="756" r="22"/></g>
<g id="n-g5"><circle class="ng" cx="388" cy="770" r="20"/></g>
<g id="n-g6"><circle class="ng" cx="508" cy="742" r="20"/></g>
<g id="n-g7"><circle class="ng" cx="497" cy="795" r="26"/></g>
<g id="n-q-j-econ-green"><circle class="ng" cx="409" cy="811" r="22"/></g>
<g id="n-j-int-bus-stud"><circle class="ng" cx="147" cy="845" r="16"/></g>
<g id="n-g10"><circle class="ng" cx="350" cy="920" r="20"/></g>
<g id="n-g11"><circle class="ng" cx="558" cy="895" r="22"/></g>
<g id="n-g12"><circle class="ng" cx="558" cy="952" r="22"/></g>
<g id="n-g13"><circle class="ng" cx="368" cy="1055" r="20"/></g>
<g id="n-g14"><circle class="ng" cx="560" cy="1045" r="20"/></g>
</g>
<g id="node-purple">
<g id="n-p2"><circle class="np" cx="615" cy="663" r="20"/></g>
<g id="n-q-j-econ"><circle class="np" cx="430" cy="855" r="36"/></g>
<g id="n-p4"><circle class="np" cx="438" cy="975" r="24"/></g>
<g id="n-technol-forecast-soc"><circle class="np" cx="640" cy="897" r="80"/></g>
<g id="n-p6"><circle class="np" cx="700" cy="1022" r="15"/></g>
<g id="n-p5"><circle class="np" cx="780" cy="1020" r="24"/></g>
<g id="n-res-policy"><circle class="np" cx="468" cy="1115" r="52"/></g>
<g id="n-scientometrics"><circle class="np" cx="605" cy="1250" r="24"/></g>
<g id="n-new-media-soc"><circle class="np" cx="262" cy="1468" r="18"/></g>
</g>
<g id="node-pink">
<g id="n-k1"><circle class="nk" cx="765" cy="932" r="26"/></g>
<g id="n-k2"><circle class="nk" cx="837" cy="1212" r="24"/></g>
</g>
<g id="node-red">
<g id="n-r4"><circle class="nr" cx="900" cy="580" r="16"/></g>
<g id="n-nature"><circle class="nr" cx="820" cy="620" r="38"/></g>
<g id="n-r5"><circle class="nr" cx="928" cy="690" r="32"/></g>
<g id="n-r6"><circle class="nr" cx="882" cy="745" r="22"/></g>
<g id="n-r7"><circle class="nr" cx="1100" cy="778" r="20"/></g>
<g id="n-r8"><circle class="nr" cx="883" cy="825" r="24"/></g>
<g id="n-r9"><circle class="nr" cx="1183" cy="828" r="22"/></g>
<g id="n-r10"><circle class="nr" cx="1290" cy="778" r="24"/></g>
<g id="n-environ-toxicol-chem"><circle class="nr" cx="1292" cy="678" r="26"/></g>
<g id="n-remote-sens-environ"><circle class="nr" cx="1110" cy="1068" r="40"/></g>
<g id="n-r13"><circle class="nr" cx="1212" cy="1092" r="24"/></g>
</g>
<g id="node-orange">
<g id="n-j-clean-prod"><circle class="no" cx="770" cy="697" r="40"/></g>
<g id="n-renew-sust-energ-rev"><circle class="no" cx="977" cy="790" r="30"/></g>
<g id="n-o3"><circle class="no" cx="835" cy="905" r="42"/></g>
<g id="n-o4"><circle class="no" cx="852" cy="1095" r="24"/></g>
<g id="n-j-comput-phys"><circle class="no" cx="1410" cy="270" r="22"/></g>
<g id="n-j-comput-phys-2"><circle class="no" cx="1492" cy="252" r="18"/></g>
<g id="n-j-fluid-mech"><circle class="no" cx="1420" cy="385" r="17"/></g>
<g id="n-j-wind-eng-ind-aerod"><circle class="no" cx="1325" cy="545" r="16"/></g>
</g>
<g id="node-brown">
<g id="n-appl-phys-lett"><circle class="nn" cx="1380" cy="475" r="30"/></g>
<g id="n-appl-phys-lett-2"><circle class="nn" cx="1510" cy="470" r="18"/></g>
</g>
<g id="node-yellow">
<g id="n-y1"><circle class="ny" cx="930" cy="570" r="38"/></g>
<g id="n-y2"><circle class="ny" cx="600" cy="755" r="22"/></g>
<g id="n-y3"><circle class="ny" cx="815" cy="733" r="20"/></g>
<g id="n-y4"><circle class="ny" cx="952" cy="745" r="20"/></g>
<g id="n-y5"><circle class="ny" cx="722" cy="780" r="22"/></g>
<g id="n-y6"><circle class="ny" cx="993" cy="848" r="22"/></g>
<g id="n-y7"><circle class="ny" cx="925" cy="915" r="22"/></g>
<g id="n-y8"><circle class="ny" cx="1115" cy="945" r="34"/></g>
<g id="n-y9"><circle class="ny" cx="830" cy="1015" r="24"/></g>
<g id="n-y10"><circle class="ny" cx="1195" cy="1015" r="18"/></g>
<g id="n-reg-stud"><circle class="ny" cx="682" cy="1013" r="20"/></g>
<g id="n-y12"><circle class="ny" cx="720" cy="1293" r="20"/></g>
</g>
<g id="labels">
<text x="809" y="71" font-size="43" text-anchor="middle" textLength="178">proc cirp</text>
<text x="305" y="170" font-size="43" text-anchor="middle" textLength="210">market sci</text>
<text x="806" y="285" font-size="46" text-anchor="middle" textLength="340">expert syst appl</text>
<text x="1410" y="283" font-size="44" text-anchor="middle" textLength="290">j comput phys</text>
<text x="246" y="362" font-size="52" text-anchor="middle" textLength="273">j marketing</text>
<text x="1416" y="398" font-size="42" text-anchor="middle" textLength="232">j fluid mech</text>
<text x="543" y="455" font-size="45" text-anchor="middle" textLength="250">wall street j</text>
<text x="1381" y="488" font-size="48" text-anchor="middle" textLength="307">appl phys lett</text>
<text x="535" y="533" font-size="51" text-anchor="middle" textLength="380">harvard bus rev</text>
<text x="1322" y="558" font-size="42" text-anchor="middle" textLength="401">j wind eng ind aerod</text>
<text x="821" y="633" font-size="51" text-anchor="middle" textLength="158">nature</text>
<text x="403" y="643" font-size="46" text-anchor="middle" textLength="183">j bus res</text>
<text x="1291" y="692" font-size="45" text-anchor="middle" textLength="451">environ toxicol chem</text>
<text x="762" y="712" font-size="52" text-anchor="middle" textLength="285">j clean prod</text>
<text x="375" y="727" font-size="46" text-anchor="middle" textLength="370">acad manage rev</text>
<text x="980" y="803" font-size="48" text-anchor="middle" textLength="475">renew sust energ rev</text>
<text x="405" y="830" font-size="48" text-anchor="middle" textLength="175">q j econ</text>
<text x="144" y="857" font-size="40" text-anchor="middle" textLength="252">j int bus stud</text>
<text x="648" y="932" font-size="66" text-anchor="middle" textLength="620">technol forecast soc</text>
<text x="680" y="1030" font-size="43" text-anchor="middle" textLength="166">reg stud</text>
<text x="1107" y="1082" font-size="53" text-anchor="middle" textLength="520">remote sens environ</text>
<text x="467" y="1133" font-size="58" text-anchor="middle" textLength="259">res policy</text>
<text x="606" y="1268" font-size="40" text-anchor="middle" textLength="298">scientometrics</text>
<text x="260" y="1482" font-size="38" text-anchor="middle" textLength="290">new media soc</text>
</g>
</g>
</svg>
